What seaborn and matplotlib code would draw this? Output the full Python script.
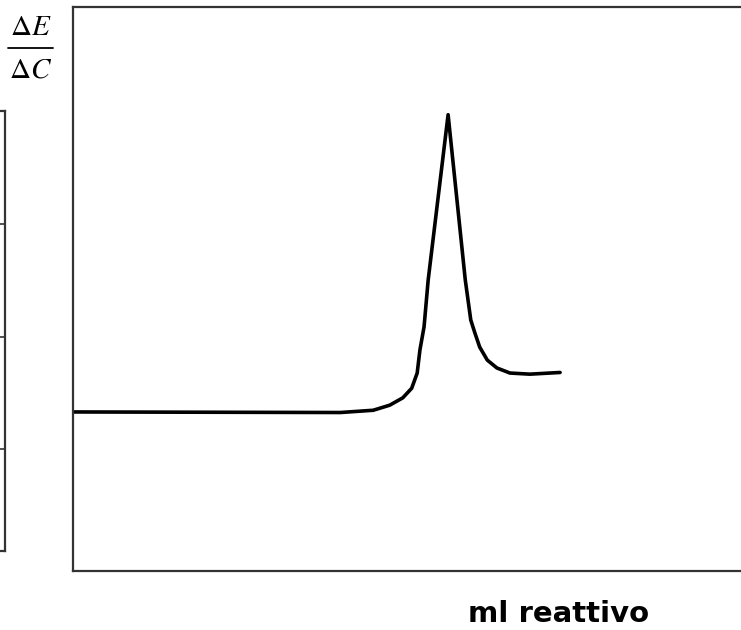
import matplotlib
matplotlib.use("Agg")
import matplotlib.pyplot as plt
import seaborn as sns
import pandas as pd

sns.set_style("white")
plt.rcParams['font.family'] = ['DejaVu Sans']
plt.rcParams['mathtext.fontset'] = 'stix'
plt.rcParams['text.color'] = 'black'

# Derivative titration curve (arbitrary units)
ml_reattivo = [0.00, 3.89, 4.37, 4.61, 4.80, 4.93, 5.01, 5.05, 5.11, 5.17,
               5.46, 5.71, 5.79, 5.85, 5.92, 6.03, 6.17, 6.36, 6.65, 7.09]
dE_dC = [2.82, 2.81, 2.85, 2.94, 3.07, 3.24, 3.51, 3.92, 4.33, 5.16,
         8.09, 5.16, 4.45, 4.22, 3.97, 3.74, 3.60, 3.51, 3.49, 3.52]
side_grid = [1, 2, 3]

df = pd.DataFrame({"ml": ml_reattivo, "dEdC": dE_dC})

W, H = 741, 630
fig = plt.figure(figsize=(W / 100, H / 100), dpi=100)

# main axes (right edge lies outside the figure)
ax = fig.add_axes([73 / W, (H - 571) / H, 687 / W, 564 / H])
sns.lineplot(data=df, x="ml", y="dEdC", ax=ax, color="black", lw=2.6,
             sort=False, estimator=None)
ax.lines[0].set_solid_joinstyle("round")
ax.lines[0].set_solid_capstyle("round")
ax.set_xlim(0, 10)
ax.set_ylim(0, 10)
ax.set_xticks([])
ax.set_yticks([])
ax.set_xlabel("")
ax.set_ylabel("")
for s in ["left", "top", "bottom"]:
    ax.spines[s].set_color("#333333")
    ax.spines[s].set_linewidth(1.6)
ax.spines["right"].set_visible(False)

# partial neighbouring chart at the left border
ax2 = fig.add_axes([-100 / W, (H - 551) / H, 105 / W, 440 / H])
ax2.set_xlim(0, 1)
ax2.set_ylim(3.9, 0)
ax2.set_xticks([])
ax2.set_yticks(side_grid)
ax2.tick_params(left=False, labelleft=False)
ax2.grid(True, axis="y", color="#333333", lw=1.2)
for s in ax2.spines.values():
    s.set_color("#333333")
    s.set_linewidth(1.6)

# y label as fraction
fig.text(31 / W, 1 - 27 / H, r"$\Delta E$", fontsize=21, ha="center", va="center",
         color="black")
fig.text(31 / W, 1 - 69 / H, r"$\Delta C$", fontsize=21, ha="center", va="center",
         color="black")
fig.add_artist(plt.Line2D([8 / W, 53 / W], [1 - 47.5 / H, 1 - 47.5 / H],
                          color="black", lw=1.3))

fig.text(559 / W, 1 - 614 / H, "ml reattivo", fontsize=21, fontweight="bold",
         ha="center", va="center", color="black")

fig.savefig("out.png", dpi=100)
